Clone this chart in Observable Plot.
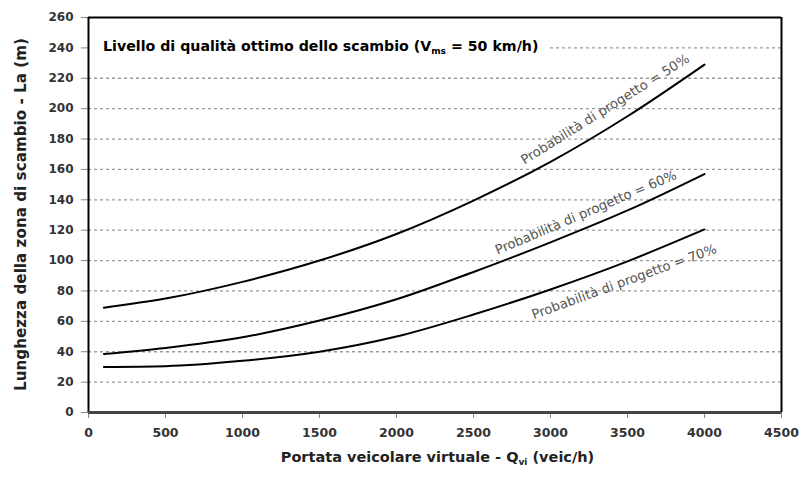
<!DOCTYPE html>
<html><head><meta charset="utf-8">
<script src="https://cdn.jsdelivr.net/npm/d3@7"></script>
<script src="https://cdn.jsdelivr.net/npm/@observablehq/plot@0.6"></script>
<style>
body{margin:0;background:#fff;}
#chart{width:803px;height:477px;}
</style></head><body><div id="chart"></div>
<script>
// Data
const flow = [100, 500, 1000, 1500, 2000, 2500, 3000, 3500, 4000];
const prob50 = [69, 75, 86, 100, 117.5, 139.5, 165, 195, 229];
const prob60 = [38.5, 42.5, 49.5, 60.5, 74.5, 92.5, 112, 133, 157];
const prob70 = [30, 30.5, 34, 40, 50, 64.5, 81, 99.5, 120.5];
const seriesNames = ["50%", "60%", "70%"];
const curveLabels = ["Probabilità di progetto = 50%", "Probabilità di progetto = 60%", "Probabilità di progetto = 70%"];
const xTicks = [0, 500, 1000, 1500, 2000, 2500, 3000, 3500, 4000, 4500];
const yTicks = [0, 20, 40, 60, 80, 100, 120, 140, 160, 180, 200, 220, 240, 260];
const titleMain = "Livello di qualità ottimo dello scambio (V";
const titleSub = "ms";
const titleEnd = " = 50 km/h)";
const xLabelMain = "Portata veicolare virtuale - Q";
const xLabelSub = "vi";
const xLabelEnd = " (veic/h)";
const yLabel = "Lunghezza della zona di scambio - La (m)";

const allSeries = [prob50, prob60, prob70];
const rows = allSeries.flatMap((vals, s) => flow.map((x, i) => ({series: seriesNames[s], x, y: vals[i]})));
const labelRows = [
  {text: curveLabels[0], x: 3355, y: 199.5, angle: -32},
  {text: curveLabels[1], x: 3230, y: 131.5, angle: -23},
  {text: curveLabels[2], x: 3478, y: 86, angle: -20}
];

const font = "'DejaVu Sans', Verdana, sans-serif";
const chart = Plot.plot({
  width: 803, height: 477,
  marginLeft: 88, marginRight: 22, marginTop: 17, marginBottom: 65,
  style: {fontFamily: font, background: "#fff", overflow: "visible"},
  x: {domain: [0, 4500]},
  y: {domain: [0, 260]},
  marks: [
    Plot.ruleY(yTicks.filter(v => v > 0 && v < 260 && v !== 240), {stroke: "#9a9a9a", strokeWidth: 1.3, strokeDasharray: "3,3"}),
    Plot.ruleY([240], {x1: 3000, x2: 4500, stroke: "#9a9a9a", strokeWidth: 1.3, strokeDasharray: "3,3"}),
    Plot.line(rows, {x: "x", y: "y", z: "series", curve: "monotone-x", stroke: "#000", strokeWidth: 2}),
    Plot.text(labelRows, {x: "x", y: "y", text: "text", rotate: "angle", fontSize: 13.2, fill: "#555", textAnchor: "middle", lineAnchor: "middle"}),
    Plot.axisY({ticks: yTicks, tickSize: 7, tickPadding: 8, fontSize: 12, fontWeight: "bold", fill: "#333", stroke: "#888", label: null}),
    Plot.axisX({ticks: xTicks, tickSize: 6, tickPadding: 10, fontSize: 12.5, fontWeight: "bold", fill: "#333", stroke: "#888", label: null, tickFormat: d => String(d)}),
    Plot.ruleY([260], {stroke: "#000", strokeWidth: 2}),
    Plot.ruleX([0], {stroke: "#000", strokeWidth: 2}),
    Plot.ruleX([4500], {stroke: "#000", strokeWidth: 2}),
    Plot.ruleY([0], {stroke: "#444", strokeWidth: 3})
  ]
});
document.getElementById("chart").append(chart);

const svg = d3.select(chart);
const sx = chart.scale("x"), sy = chart.scale("y");
// Title
const t = svg.append("text").attr("x", sx.apply(0) + 15).attr("y", sy.apply(240) + 4)
  .attr("text-anchor", "start").attr("font-size", 14.2).attr("font-weight", "bold").attr("fill", "#000").attr("font-family", font);
t.append("tspan").text(titleMain);
t.append("tspan").attr("font-size", 9).attr("dy", 3).text(titleSub);
t.append("tspan").attr("dy", -3).text(titleEnd);
// X label
const xl = svg.append("text").attr("x", (sx.apply(0) + sx.apply(4500)) / 2 + 3).attr("y", 462)
  .attr("text-anchor", "middle").attr("font-size", 14.5).attr("font-weight", "bold").attr("fill", "#222").attr("font-family", font);
xl.append("tspan").text(xLabelMain);
xl.append("tspan").attr("font-size", 9).attr("dy", 3).text(xLabelSub);
xl.append("tspan").attr("dy", -3).text(xLabelEnd);
// Y label
svg.append("text").attr("transform", `translate(21,${(sy.apply(0) + sy.apply(260)) / 2}) rotate(-90)`)
  .attr("text-anchor", "middle").attr("dy", "0.35em").attr("font-size", 15.2).attr("font-weight", "bold").attr("fill", "#222").attr("font-family", font)
  .text(yLabel);
</script>
</body></html>
